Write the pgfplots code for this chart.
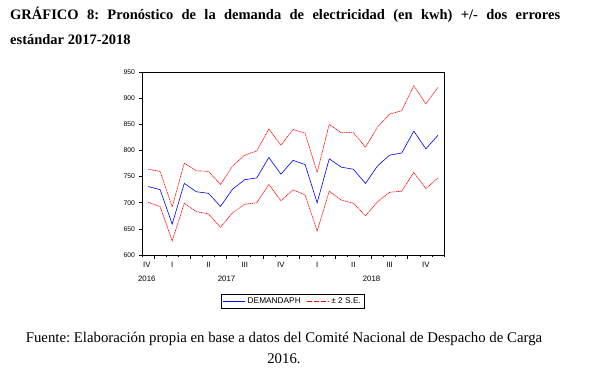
\documentclass[border=0pt]{standalone}
\usepackage{pgfplots}
\pgfplotsset{compat=1.18}
\usepackage{fontspec}
\setmainfont{Liberation Serif}
\setsansfont{Liberation Sans}
\frenchspacing
\pgfplotstableread{
i blue upper lower
0 731 764 701
1 725 760 692.6
2 659 692 627
3 737 776 699
4 721 761 683
5 718 760 678.6
6 693 735 653
7 726 770.5 681
8 744 791 697
9 747.5 799 700
10 786.5 841 735
11 754.6 810 704
12 781 840 724.5
13 773 833 715
14 700 758 646
15 784 850 722
16 768 834 705
17 764 834 699
18 737 806 675
19 770.5 845 702
20 791 869.5 720
21 795 876 722
22 837 924 758
23 803 889 727
24 829 921 747.5
}\datatable
\begin{document}
\begin{tikzpicture}[x=1pt,y=1pt]
\useasboundingbox (0,0) rectangle (595,368);
\node[anchor=north west, inner sep=0pt, text width=550pt, align=justify,
  font=\bfseries\fontsize{14.5}{25}\selectfont] at (10,361)
  {GRÁFICO 8: Pronóstico de la demanda de electricidad (en kwh) +/- dos errores\linebreak estándar 2017-2018};
\node[align=center, inner sep=0pt, font=\fontsize{14.8}{21}\selectfont] at (284,20.5)
  {Fuente: Elaboración propia en base a datos del Comité Nacional de Despacho de Carga\\2016.};
\begin{axis}[
  at={(142pt,113pt)}, anchor=south west,
  scale only axis, width=302pt, height=183pt,
  xmin=-0.5, xmax=24.5, ymin=600, ymax=950,
  axis line style={line width=0.8pt},
  tick align=outside, xtick pos=bottom, ytick pos=left,
  major tick length=3.5pt, minor tick length=2.2pt,
  tick style={black, line width=0.6pt},
  ytick={600,650,...,950},
  yticklabel style={font=\sffamily\fontsize{6.8}{7}\selectfont},
  /pgf/number format/assume math mode=true,
  xtick={0.5,3.5,...,21.5}, xticklabels={},
  minor xtick={-0.5,0.5,...,24.5},
  extra x ticks={-0.1,2,5,6.5,8,11,14,17,18.5,20,23},
  extra x tick labels={IV\\2016,I,II,\vphantom{I}\\2017,III,IV,I,II,\vphantom{I}\\2018,III,IV},
  extra x tick style={tick style={draw=none},
    xticklabel style={align=center, font=\sffamily\fontsize{7.8}{13.5}\selectfont, inner sep=1pt, yshift=-2.5pt}},
  legend style={at={(0.5,-0.213)}, anchor=north, legend columns=2,
    font=\sffamily\fontsize{8.3}{9}\selectfont, draw=black, line width=0.6pt,
    inner sep=1.5pt, /tikz/every even column/.append style={column sep=4pt}},
  legend image code/.code={\draw[#1] (0pt,0pt) -- (22pt,0pt);},
]
\addplot[blue, line width=0.6pt] table[x=i,y=blue] {\datatable};
\addlegendentry{DEMANDAPH}
\addplot[red, line width=0.6pt, dash pattern=on 1.2pt off 0.6pt,
  legend image code/.code={\draw[red, line width=0.6pt, dash pattern=on 5pt off 2pt] (0pt,0pt) -- (22pt,0pt);}] table[x=i,y=upper] {\datatable};
\addlegendentry{± 2 S.E.}
\addplot[red, line width=0.6pt, dash pattern=on 1.2pt off 0.6pt, forget plot] table[x=i,y=lower] {\datatable};
\end{axis}
\end{tikzpicture}
\end{document}
